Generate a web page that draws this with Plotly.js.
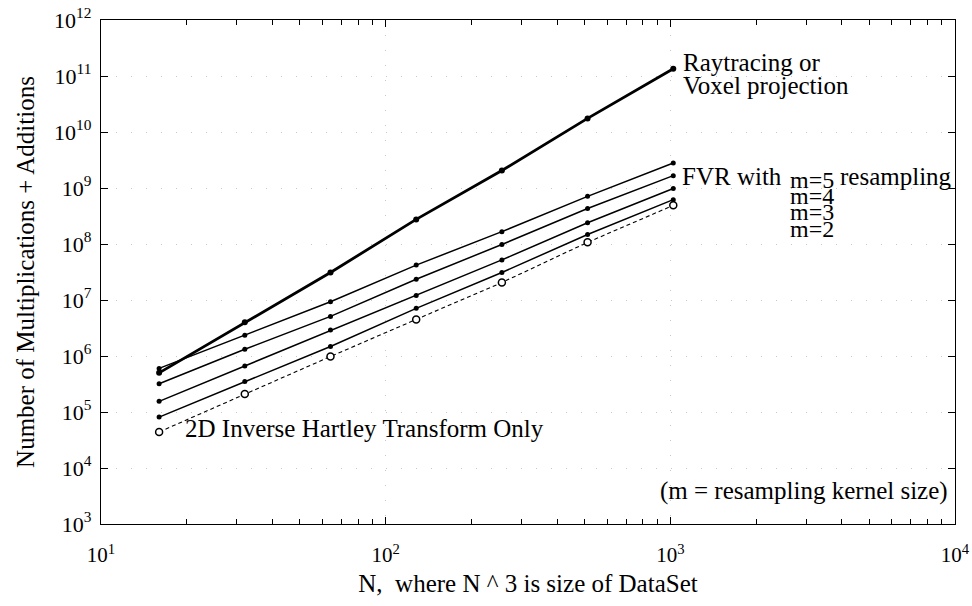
<!DOCTYPE html>
<html>
<head>
<meta charset="utf-8">
<script src="https://cdn.plot.ly/plotly-3.0.1.min.js"></script>
<style>html,body{margin:0;padding:0;background:#fff;}#chart{width:972px;height:606px;}</style>
</head>
<body>
<div id="chart"></div>
<script>
// Data
const N = [16, 32, 64, 128, 256, 512, 1024];
const raytracing = [5.0e5, 4.0e6, 3.1e7, 2.75e8, 2.05e9, 1.75e10, 1.35e11];
const fvrM5 = [6.0e5, 2.35e6, 9.3e6, 4.2e7, 1.66e8, 7.1e8, 2.8e9];
const fvrM4 = [3.2e5, 1.32e6, 5.1e6, 2.35e7, 9.8e7, 4.3e8, 1.66e9];
const fvrM3 = [1.55e5, 6.6e5, 2.9e6, 1.2e7, 5.2e7, 2.4e8, 9.8e8];
const fvrM2 = [8.1e4, 3.5e5, 1.48e6, 7.1e6, 3.1e7, 1.48e8, 6.2e8];
const hartley = [4.4e4, 2.1e5, 9.8e5, 4.5e6, 2.05e7, 1.07e8, 4.9e8];

const xExponents = [1, 2, 3, 4];
const yExponents = [3, 4, 5, 6, 7, 8, 9, 10, 11, 12];

const FONT = "Liberation Serif, Times New Roman, serif";

const xTickVals = xExponents.map(e => Math.pow(10, e));
const xTickText = xExponents.map(e => "10<sup>" + e + "</sup>");
const yTickVals = yExponents.map(e => Math.pow(10, e));
const yTickText = yExponents.map(e => "10<sup>" + e + "</sup>");
const xMinor = [];
for (let d = 1; d < 4; d++) for (let k = 2; k <= 9; k++) xMinor.push(k * Math.pow(10, d));

function solid(y, name, w, ms) {
  return {x: N, y: y, name: name, mode: "lines+markers", type: "scatter",
    line: {color: "#000", width: w}, marker: {color: "#000", size: ms, symbol: "circle"}};
}

const traces = [
  solid(raytracing, "Raytracing or Voxel projection", 2.8, 6),
  solid(fvrM5, "FVR m=5", 1.5, 5),
  solid(fvrM4, "FVR m=4", 1.5, 5),
  solid(fvrM3, "FVR m=3", 1.5, 5),
  solid(fvrM2, "FVR m=2", 1.5, 5),
  {x: N, y: hartley, name: "2D Inverse Hartley Transform Only", mode: "lines+markers", type: "scatter",
    line: {color: "#000", width: 1.1, dash: "4px,3px"},
    marker: {color: "#fff", size: 7, symbol: "circle", line: {color: "#000", width: 1.5}}}
];

const ann = (text, x, y, size, xanchor) => ({text: text, x: x, y: y, xref: "paper", yref: "paper",
  xanchor: xanchor || "left", yanchor: "middle", showarrow: false, font: {family: FONT, size: size, color: "#000"}});

// paper coordinates: plot area x 101..955, y 20..524
const px = x => (x - 101) / 854;
const py = y => 1 - (y - 20) / 504;

const layout = {
  width: 972, height: 606,
  margin: {l: 101, r: 17, t: 20, b: 82},
  paper_bgcolor: "#fff", plot_bgcolor: "#fff",
  showlegend: false,
  font: {family: FONT, color: "#000"},
  xaxis: {
    type: "log", range: [1, 4],
    tickmode: "array", tickvals: xTickVals, ticktext: xTickText,
    ticks: "inside", ticklen: 7, tickwidth: 1, tickcolor: "#000",
    showline: true, linecolor: "#000", linewidth: 1.2, mirror: "ticks",
    showgrid: true, gridcolor: "#c8c8c8", griddash: "1px,14px", gridwidth: 1,
    zeroline: false,
    minor: {tickmode: "array", tickvals: xMinor, ticks: "inside", ticklen: 5, tickcolor: "#000", showgrid: false},
    tickfont: {family: FONT, size: 21, color: "#000"},
    ticklabelstandoff: 12,
    title: {text: "N,  where N ^ 3 is size of DataSet", font: {family: FONT, size: 25, color: "#000"}, standoff: 8}
  },
  yaxis: {
    type: "log", range: [3, 12],
    tickmode: "array", tickvals: yTickVals, ticktext: yTickText,
    ticks: "inside", ticklen: 7, tickwidth: 1, tickcolor: "#000",
    showline: true, linecolor: "#000", linewidth: 1.2, mirror: "ticks",
    showgrid: true, gridcolor: "#c8c8c8", griddash: "1px,14px", gridwidth: 1,
    zeroline: false,
    tickfont: {family: FONT, size: 22, color: "#000"},
    ticklabelstandoff: 4,
    title: {text: "Number of Multiplications + Additions", font: {family: FONT, size: 25, color: "#000"}, standoff: 12}
  },
  annotations: [
    ann("Raytracing or", px(681), py(62), 25),
    ann("Voxel projection", px(681), py(85), 25),
    ann("FVR with", px(680), py(176), 25),
    ann("m=5", px(788), py(180), 24),
    ann("resampling", px(838), py(176), 25),
    ann("m=4", px(788), py(196), 24),
    ann("m=3", px(788), py(212), 24),
    ann("m=2", px(788), py(229), 24),
    ann("2D Inverse Hartley Transform Only", px(183), py(428), 25),
    ann("(m = resampling kernel size)", px(950), py(491), 25, "right")
  ]
};

Plotly.newPlot("chart", traces, layout, {displayModeBar: false, staticPlot: true});
</script>
</body>
</html>
